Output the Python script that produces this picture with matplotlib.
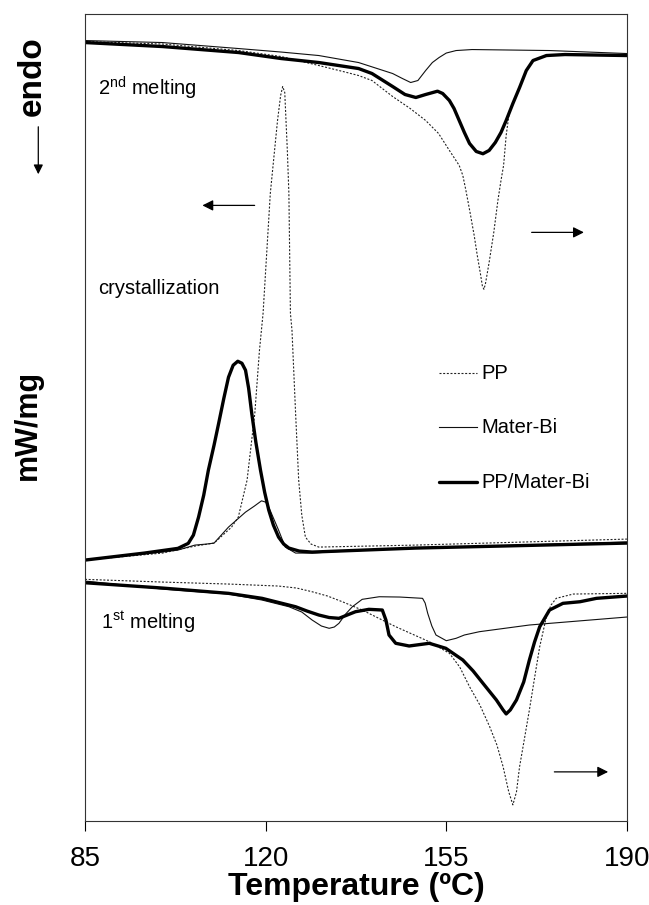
import matplotlib
matplotlib.use("Agg")
import matplotlib.pyplot as plt
from matplotlib.patches import FancyArrowPatch

plt.rcParams['font.family'] = ['Liberation Sans', 'DejaVu Sans']
plt.rcParams['mathtext.fontset'] = 'custom'
plt.rcParams['mathtext.rm'] = 'Liberation Sans'

# heat flow read as distance from the top of the frame (endo down), temperatures in C
# 2nd melting
pp_m2_t = [85, 100, 114.75, 123, 130.3, 135, 138, 140.6, 144.6, 148, 151, 153.5, 155.6, 157.5, 158.2, 158.8,
           159.6, 160.4, 161.0, 161.6, 162.0, 162.3, 162.6, 163.3, 164.2, 165.0, 165.6, 166.1, 166.6, 167.2,
           167.9, 169.2, 170.5, 171.8, 174.4, 178, 190]
pp_m2_y = [41, 43.5, 50, 56, 65, 71, 75, 80, 96, 108, 120, 133, 150, 165, 175, 190,
           212, 235, 255, 273, 286, 289, 283, 262, 232, 200, 180, 165, 135, 112,
           103, 87, 70, 60, 55, 54, 54]
mb_m2_t = [85, 100, 114.75, 123, 130.3, 138, 141, 144.6, 146.5, 148.1, 149.5, 151, 152.3, 153.6, 155, 156.9,
           160, 175, 190]
mb_m2_y = [40, 42, 48, 51.5, 55, 62, 67, 73, 78, 82, 80, 70, 62, 57, 52.5, 50, 49, 50, 53]
bl_m2_t = [85, 100, 114.75, 123, 130.3, 138, 140.6, 144.6, 147, 149.1, 151, 153.3, 154.3, 155.6, 156.5, 157.5,
           158.5, 159.5, 160.8, 162.1, 163.3, 164.5, 165.6, 166.6, 167.9, 169.2, 170.5, 171.8, 174.4, 178, 190]
bl_m2_y = [42, 46, 52, 58, 62, 68, 73, 86, 94, 97, 94, 90.7, 93, 100, 108, 120,
           132, 143, 151, 153.3, 150, 142, 132, 120, 103, 87, 70, 60, 55, 54, 55]

# crystallization
pp_cr_t = [85, 100, 106.3, 110, 113.4, 114.7, 116.4, 117.9, 118.8, 119.5, 120.9, 122.3, 122.9, 123.3, 123.7,
           124.2, 124.5, 124.8, 125.1, 125.8, 126.4, 127.0, 127.7, 128.8, 130.3, 149, 190]
pp_cr_y = [560, 553, 546, 543, 527, 517, 480, 413, 350, 313, 193, 120, 95, 86, 92,
           150, 193, 313, 330, 413, 480, 515, 537, 544, 547, 545, 539]
mb_cr_t = [85, 100, 103, 106.3, 108.5, 110, 112.8, 116.1, 117.8, 119.2, 120, 120.6, 122.5, 123.8, 125.8, 129,
           133, 149, 190]
mb_cr_y = [560, 552, 550, 545, 544, 543, 527, 512, 506, 500.7, 502, 507, 530, 547, 553, 553,
           551.7, 548, 542]
bl_cr_t = [85, 96.5, 103, 105, 106, 107, 108, 108.9, 110, 110.9, 111.9, 112.8, 113.7, 114.6, 115.4, 116.1,
           116.7, 117.3, 118.1, 119, 119.8, 120.6, 121.5, 122.5, 123.5, 124.5, 126.5, 129, 149, 190]
bl_cr_y = [560, 553, 548.3, 543.3, 535, 517, 495, 470, 445, 423, 398, 377, 365, 361, 363, 370,
           388, 413, 442, 470, 492, 510, 525, 537, 544, 548, 551, 552, 548, 543]

# 1st melting
pp_m1_t = [85, 100, 112.8, 122.5, 126, 129, 132, 135, 138.7, 145.2, 151.7, 155.6, 157.6, 159.5, 161.5, 163.4,
           164.8, 166, 167.1, 167.9, 168.6, 169.2, 170.1, 171.1, 172.1, 173.1, 174.4, 175.3, 176.3, 179.6, 190]
pp_m1_y = [579.3, 582, 584, 586, 588, 591.7, 596, 602, 610, 626.7, 641.7, 653.3, 667, 686.7, 705, 726.7,
           745, 766.7, 792, 805, 792, 766.7, 740, 710, 678, 646.7, 616.7, 605, 598.3, 594, 593.3]
mb_m1_t = [85, 100, 112.8, 119.3, 124.5, 127, 129, 130.8, 132.3, 133.3, 134.2, 135.5, 136.8, 138.7, 142, 146,
           150.4, 150.9, 151.4, 152.2, 153, 155, 156.9, 158.5, 161.4, 171.1, 190]
mb_m1_y = [581, 589, 594, 600, 606.7, 612, 620, 626, 628.3, 627, 623.3, 614, 606.7, 599.3, 596.7, 597,
           598.3, 603, 613.3, 626, 635, 640.7, 638.3, 635, 631.7, 625, 617]
bl_m1_t = [85, 100, 112.8, 119.3, 125.8, 128, 130.3, 132.3, 134.2, 135.8, 137.4, 140, 142.6, 143.3, 143.9,
           145.2, 147.8, 151.7, 154.9, 158.2, 160.2, 162.1, 164.7, 166.0, 166.6, 167.4, 168.6, 170, 171.1,
           172.1, 173.1, 175, 177.6, 180.9, 184.1, 190]
bl_m1_y = [582.7, 588, 593.3, 598.3, 606.7, 611, 615, 617.5, 618.3, 615, 611.7, 609.3, 610, 620, 635,
           643.3, 646, 643.3, 648.3, 660, 671, 683.3, 700, 710, 714, 710, 700, 682, 660,
           642, 626.7, 610, 603.3, 601.7, 598.3, 596]

xticks = [85, 120, 155, 190]
legend_labels = ['PP', 'Mater-Bi', 'PP/Mater-Bi']

pp_style = dict(color='#222222', lw=0.8, ls=(0, (1.8, 1.5)))
mb_style = dict(color='#111111', lw=0.8, ls='-')
bl_style = dict(color='#000000', lw=2.4, ls='-', solid_capstyle='round', solid_joinstyle='round')

fig = plt.figure(figsize=(6.49, 9.05), dpi=100)
ax = fig.add_axes([0.131, 0.093, 0.835, 0.892])

for t, y in [(pp_m2_t, pp_m2_y), (pp_cr_t, pp_cr_y), (pp_m1_t, pp_m1_y)]:
    ax.plot(t, y, **pp_style)
for t, y in [(mb_m2_t, mb_m2_y), (mb_cr_t, mb_cr_y), (mb_m1_t, mb_m1_y)]:
    ax.plot(t, y, **mb_style)
for t, y in [(bl_m2_t, bl_m2_y), (bl_cr_t, bl_cr_y), (bl_m1_t, bl_m1_y)]:
    ax.plot(t, y, **bl_style)

ax.set_xlim(85, 190)
ax.set_ylim(821, 13)
ax.set_xticks(xticks)
ax.set_xticklabels([str(v) for v in xticks], fontsize=20)
ax.tick_params(axis='x', direction='out', length=7, width=0.8, pad=11)
ax.set_yticks([])
for s in ax.spines.values():
    s.set_linewidth(0.8)
    s.set_color('#333333')

ax.set_xlabel('Temperature (ºC)', fontsize=23, fontweight='bold', labelpad=0)

# legend drawn by hand
for lab, st, yy in zip(legend_labels, [pp_style, mb_style, bl_style], [373, 427, 482]):
    ax.plot([153.6, 161.0], [yy, yy], **st)
    ax.text(161.8, yy, lab, fontsize=14.5, va='center', ha='left')

ax.text(87.6, 88, r'2$^{\rm nd}$ melting', fontsize=14.5, va='center')
ax.text(87.6, 288, 'crystallization', fontsize=14.5, va='center')
ax.text(88.0, 622, r'1$^{\rm st}$ melting', fontsize=14.5, va='center')

arr = dict(arrowstyle='-|>', color='black', lw=0.9, mutation_scale=16)
ax.annotate('', xy=(107.2, 205), xytext=(118.4, 205), arrowprops=arr)
ax.annotate('', xy=(182.2, 232), xytext=(171, 232), arrowprops=arr)
ax.annotate('', xy=(186.9, 772), xytext=(175.4, 772), arrowprops=arr)

fig.text(0.043, 1 - 425 / 905, 'mW/mg', rotation=90, fontsize=22, fontweight='bold',
         ha='center', va='center')
fig.text(0.049, 1 - 76 / 905, 'endo', rotation=90, fontsize=24, fontweight='bold',
         ha='center', va='center')
fig.add_artist(FancyArrowPatch((0.059, 1 - 124 / 905), (0.059, 1 - 177 / 905),
                               transform=fig.transFigure, arrowstyle='-|>',
                               mutation_scale=14, lw=0.9, color='black'))

fig.savefig('out.png', dpi=100)
